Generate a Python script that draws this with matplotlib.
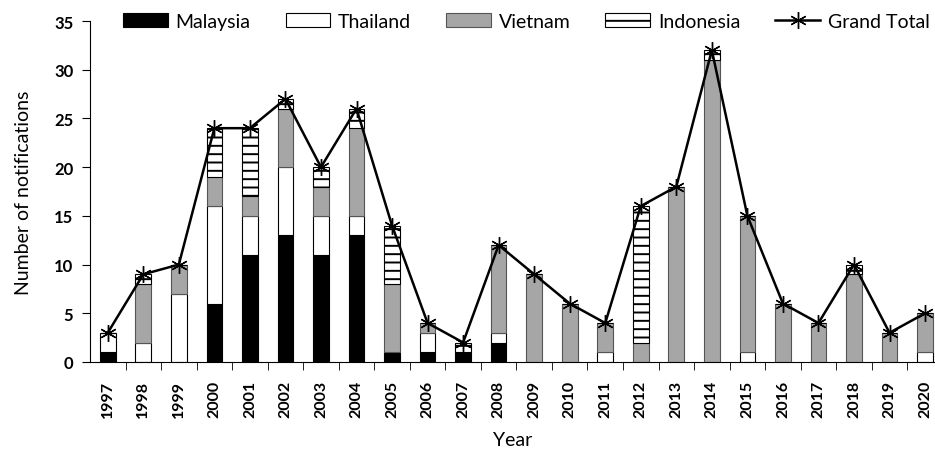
import matplotlib.pyplot as plt
import numpy as np

plt.rcParams["font.family"] = ["Lato", "DejaVu Sans"]
plt.rcParams["hatch.linewidth"] = 1.4

years = [str(y) for y in range(1997, 2021)]
malaysia  = [1, 0, 0, 6, 11, 13, 11, 13, 1, 1, 1, 2, 0, 0, 0, 0, 0, 0, 0, 0, 0, 0, 0, 0]
thailand  = [2, 2, 7, 10, 4, 7, 4, 2, 0, 2, 0, 1, 0, 0, 1, 0, 0, 0, 1, 0, 0, 0, 0, 1]
vietnam   = [0, 6, 3, 3, 2, 6, 3, 9, 7, 1, 0, 9, 9, 6, 3, 2, 18, 31, 14, 6, 4, 9, 3, 4]
indonesia = [0, 1, 0, 5, 7, 1, 2, 2, 6, 0, 1, 0, 0, 0, 0, 14, 0, 1, 0, 0, 0, 1, 0, 0]

total = [m + t + v + i for m, t, v, i in zip(malaysia, thailand, vietnam, indonesia)]

fig = plt.figure(figsize=(9.35, 4.52), dpi=100)
ax = fig.add_axes([90 / 935, 89 / 452, (935 - 90) / 935, 341 / 452])

x = np.arange(len(years))
w = 0.44
m = np.array(malaysia)
t = np.array(thailand)
v = np.array(vietnam)
i = np.array(indonesia)

h1 = ax.bar(x, m, w, color="black", edgecolor="black", lw=0.8, label="Malaysia")
h2 = ax.bar(x, t, w, bottom=m, color="white", edgecolor="black", lw=0.8, label="Thailand")
h3 = ax.bar(x, v, w, bottom=m + t, color="#a6a6a6", edgecolor="#555555", lw=0.8,
            label="Vietnam")
h4 = ax.bar(x, i, w, bottom=m + t + v, color="white", edgecolor="black", hatch="--",
            lw=0.8, label="Indonesia")
h5, = ax.plot(x, total, color="black", lw=1.8, marker=(6, 2, 0), ms=12, mew=1.0,
              label="Grand Total")

ax.set_xlim(-0.5, 23.28)
ax.set_ylim(0, 35)
ax.set_yticks(range(0, 36, 5))
ax.set_xticks(x)
ax.set_xticklabels(years, rotation=90, fontweight="bold", fontsize=11.5)
ax.tick_params(axis="x", length=0, pad=13)
ax.set_xticks(np.arange(0.5, 23, 1), minor=True)
ax.tick_params(axis="x", which="minor", length=6, direction="out")
ax.tick_params(axis="y", length=6, direction="out", labelsize=12, pad=6)
for lab in ax.get_yticklabels():
    lab.set_fontweight("bold")

ax.spines["top"].set_visible(False)
ax.spines["right"].set_visible(False)

ax.set_ylabel("Number of notifications", fontsize=14, labelpad=16)
ax.set_xlabel("Year", fontsize=14, labelpad=10)

fig.legend(handles=[h1, h2, h3, h4, h5], loc="center", bbox_to_anchor=(0.563, 0.95),
           ncol=5, frameon=False, fontsize=14, handlelength=2.3, handleheight=0.7,
           columnspacing=1.8, handletextpad=0.4)

fig.savefig("out.png", dpi=100)
